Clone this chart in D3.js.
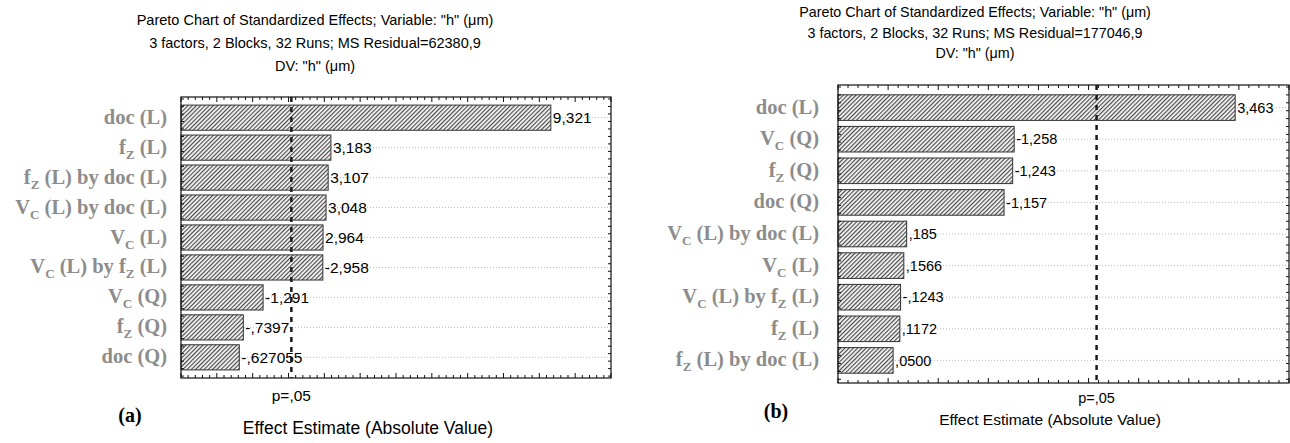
<!DOCTYPE html>
<html>
<head>
<meta charset="utf-8">
<script src="https://cdn.jsdelivr.net/npm/d3@7"></script>
<style>
  html, body { margin: 0; padding: 0; background: #fff; }
  svg { display: block; }
  .ttl { font-family: "Liberation Sans", Arial, sans-serif; fill: #000; }
  .cat { font-family: "Liberation Serif", "Times New Roman", serif; font-weight: bold; fill: #8c8c8c; }
  .val { font-family: "Liberation Sans", Arial, sans-serif; fill: #000; }
</style>
</head>
<body>
<svg id="fig" width="1290" height="443"></svg>
<script>
// panel (a)
var catsA = ['doc (L)', 'f_Z (L)', 'f_Z (L) by doc (L)', 'V_C (L) by doc (L)', 'V_C (L)',
             'V_C (L) by f_Z (L)', 'V_C (Q)', 'f_Z (Q)', 'doc (Q)'];
var valsA = [9.321, 3.183, 3.107, 3.048, 2.964, -2.958, -1.291, -0.7397, -0.627055];
var labsA = ['9,321', '3,183', '3,107', '3,048', '2,964', '-2,958', '-1,291', '-,7397', '-,627055'];
var titleA = ['Pareto Chart of Standardized Effects; Variable: "h" (\u03bcm)',
              '3 factors, 2 Blocks, 32 Runs; MS Residual=62380,9',
              'DV: "h" (\u03bcm)'];

// panel (b)
var catsB = ['doc (L)', 'V_C (Q)', 'f_Z (Q)', 'doc (Q)', 'V_C (L) by doc (L)', 'V_C (L)',
             'V_C (L) by f_Z (L)', 'f_Z (L)', 'f_Z (L) by doc (L)'];
var valsB = [3.463, -1.258, -1.243, -1.157, 0.185, 0.1566, -0.1243, 0.1172, 0.0500];
var labsB = ['3,463', '-1,258', '-1,243', '-1,157', ',185', ',1566', '-,1243', ',1172', ',0500'];
var titleB = ['Pareto Chart of Standardized Effects; Variable: "h" (\u03bcm)',
              '3 factors, 2 Blocks, 32 Runs; MS Residual=177046,9',
              'DV: "h" (\u03bcm)'];

var pCrit = 2.08;

var svg = d3.select('#fig');

var defs = svg.append('defs');
var pat = defs.append('pattern')
  .attr('id', 'hatch')
  .attr('patternUnits', 'userSpaceOnUse')
  .attr('width', 3).attr('height', 3)
  .attr('patternTransform', 'rotate(45)');
pat.append('rect').attr('width', 3).attr('height', 3).attr('fill', '#f6f6f6');
pat.append('line').attr('x1', 0.6).attr('y1', 0).attr('x2', 0.6).attr('y2', 3)
  .attr('stroke', '#404040').attr('stroke-width', 1.1);

function drawPanel(p) {
  var g = svg.append('g');
  var x = d3.scaleLinear().domain(p.xDomain).range(p.xRange);
  var y = d3.scaleBand().domain(p.cats).range(p.yRange)
    .paddingInner(p.padIn).paddingOuter(p.padOut);
  var x0 = p.xRange[0], x1 = p.xRange[1], y0 = p.yRange[0], y1 = p.yRange[1];

  // titles
  g.selectAll('text.ttl').data(p.title).enter().append('text')
    .attr('class', 'ttl')
    .attr('x', p.titleX)
    .attr('y', (d, i) => p.titleY + i * p.titleGap)
    .attr('text-anchor', 'middle')
    .style('font-size', p.titleSize + 'px')
    .text(d => d);

  // dotted grid lines at bar centers
  g.selectAll('line.grid').data(p.cats).enter().append('line')
    .attr('x1', x0).attr('x2', x1)
    .attr('y1', d => y(d) + y.bandwidth() / 2)
    .attr('y2', d => y(d) + y.bandwidth() / 2)
    .attr('stroke', '#a8a8a8').attr('stroke-width', 0.8)
    .attr('stroke-dasharray', '1,2');

  // bars
  g.selectAll('rect.bar').data(p.vals).enter().append('rect')
    .attr('x', x0)
    .attr('y', (d, i) => y(p.cats[i]))
    .attr('width', d => x(Math.abs(d)) - x0)
    .attr('height', y.bandwidth())
    .attr('fill', 'url(#hatch)')
    .attr('stroke', '#333').attr('stroke-width', 1);

  // value labels
  g.selectAll('text.val').data(p.vals).enter().append('text')
    .attr('class', 'val')
    .attr('x', d => x(Math.abs(d)) + 2)
    .attr('y', (d, i) => y(p.cats[i]) + y.bandwidth() / 2)
    .attr('dy', '0.36em')
    .style('font-size', p.valSize + 'px')
    .text((d, i) => p.labs[i]);

  // frame
  g.append('rect')
    .attr('x', x0).attr('y', y0)
    .attr('width', x1 - x0).attr('height', y1 - y0)
    .attr('fill', 'none').attr('stroke', '#111').attr('stroke-width', 1.2);

  // top / bottom ticks (inward)
  var minor = d3.range(p.xDomain[0], p.xDomain[1] + 1e-9, p.minorStep);
  minor.forEach(function(v) {
    var isMajor = Math.abs(v / p.majorStep - Math.round(v / p.majorStep)) < 1e-6;
    var len = isMajor ? 5 : 3;
    g.append('line').attr('x1', x(v)).attr('x2', x(v)).attr('y1', y0).attr('y2', y0 + len)
      .attr('stroke', '#111').attr('stroke-width', 1);
    g.append('line').attr('x1', x(v)).attr('x2', x(v)).attr('y1', y1).attr('y2', y1 - len)
      .attr('stroke', '#111').attr('stroke-width', 1);
  });

  // left / right ticks (inward)
  var st = y.step();
  var yt = d3.range(y0 + 2, y1, st / 4);
  yt.forEach(function(v) {
    g.append('line').attr('x1', x0).attr('x2', x0 + 3).attr('y1', v).attr('y2', v)
      .attr('stroke', '#111').attr('stroke-width', 1);
    g.append('line').attr('x1', x1).attr('x2', x1 - 3).attr('y1', v).attr('y2', v)
      .attr('stroke', '#111').attr('stroke-width', 1);
  });

  // p = .05 line
  g.append('line')
    .attr('x1', x(pCrit)).attr('x2', x(pCrit))
    .attr('y1', y0).attr('y2', y1)
    .attr('stroke', '#1a1a1a').attr('stroke-width', 2.5)
    .attr('stroke-dasharray', '5,5');

  // category labels with subscripts
  var cat = g.selectAll('text.cat').data(p.cats).enter().append('text')
    .attr('class', 'cat')
    .attr('x', x0 - p.labGap)
    .attr('y', d => y(d) + y.bandwidth() / 2 + 6)
    .attr('text-anchor', 'end')
    .style('font-size', p.catSize + 'px');
  cat.each(function(d) {
    var t = d3.select(this);
    var parts = d.split(/_(\w)/);
    var lowered = false;
    parts.forEach(function(s, i) {
      if (!s) return;
      if (i % 2 === 1) {
        t.append('tspan').attr('dy', 5).style('font-size', (p.catSize * 0.64) + 'px').text(s);
        lowered = true;
      } else {
        t.append('tspan').attr('dy', lowered ? -5 : 0).text(s);
        lowered = false;
      }
    });
  });

  // bottom texts
  g.append('text').attr('class', 'ttl')
    .attr('x', x(pCrit)).attr('y', p.pY)
    .attr('text-anchor', 'middle')
    .style('font-size', p.pSize + 'px')
    .text('p=,05');
  g.append('text').attr('class', 'ttl')
    .attr('x', p.axX).attr('y', p.axY)
    .attr('text-anchor', 'middle')
    .style('font-size', p.axSize + 'px')
    .text('Effect Estimate (Absolute Value)');
  g.append('text').attr('class', 'cat')
    .attr('x', p.tagX).attr('y', p.tagY)
    .attr('text-anchor', 'middle')
    .style('fill', '#000')
    .style('font-size', '20px')
    .text(p.tag);
}

drawPanel({
  cats: catsA, vals: valsA, labs: labsA, title: titleA,
  xDomain: [-1, 11], xRange: [181, 611], yRange: [97, 378],
  padIn: 0.16, padOut: 0.27, minorStep: 0.2, majorStep: 1,
  titleX: 315, titleY: 25, titleGap: 23, titleSize: 14.5,
  valSize: 15.5, catSize: 20.5, labGap: 14,
  pY: 401, pSize: 15.5, axX: 368, axY: 434, axSize: 17.5,
  tagX: 130, tagY: 422, tag: '(a)'
});

drawPanel({
  cats: catsB, vals: valsB, labs: labsB, title: titleB,
  xDomain: [-0.5, 4], xRange: [838, 1289], yRange: [85, 383],
  padIn: 0.19, padOut: 0.31, minorStep: 0.1, majorStep: 0.5,
  titleX: 975, titleY: 17, titleGap: 20.5, titleSize: 14.3,
  valSize: 14.5, catSize: 20.5, labGap: 19,
  pY: 403, pSize: 14.5, axX: 1050, axY: 425, axSize: 15.5,
  tagX: 776, tagY: 418, tag: '(b)'
});
</script>
</body>
</html>
